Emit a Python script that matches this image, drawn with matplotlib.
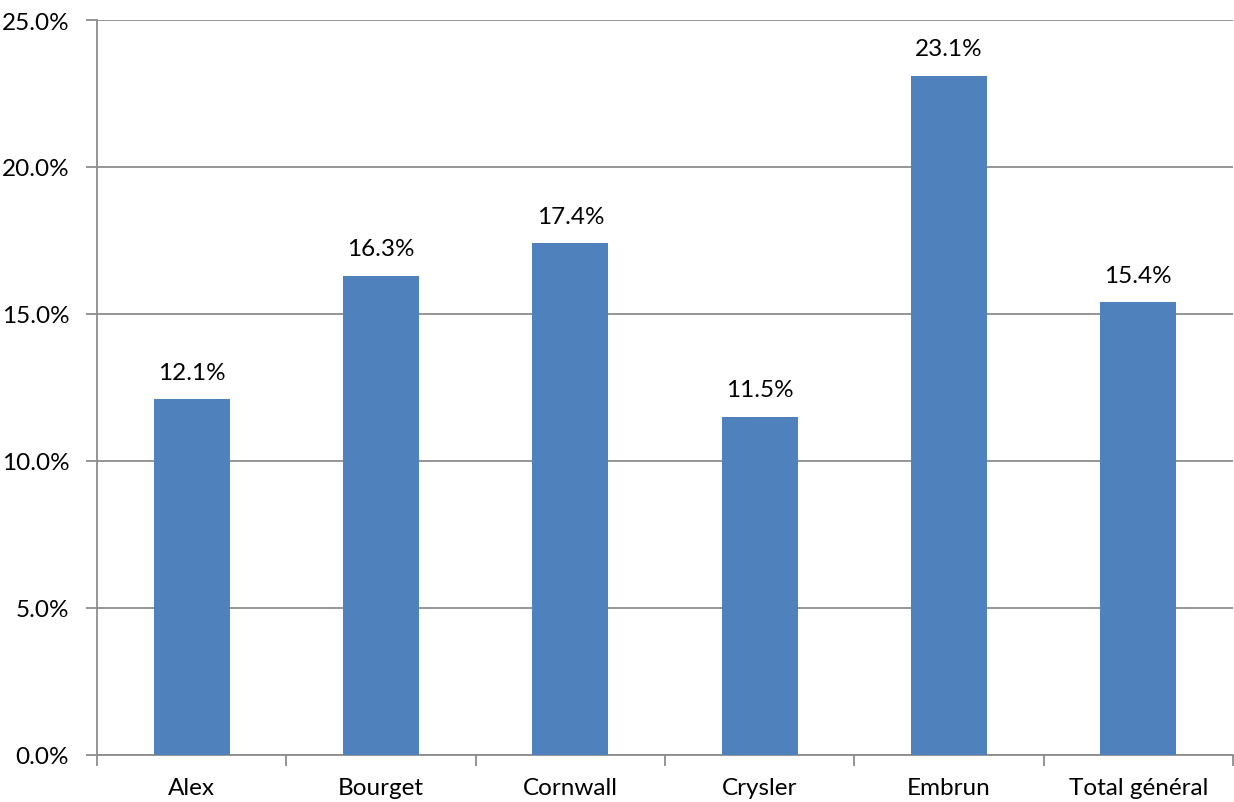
import matplotlib
matplotlib.use("Agg")
import matplotlib.pyplot as plt
from matplotlib.ticker import FixedLocator, FuncFormatter

categories = ["Alex", "Bourget", "Cornwall", "Crysler", "Embrun", "Total général"]
values = [12.1, 16.3, 17.4, 11.5, 23.1, 15.4]
yticks = [0, 5, 10, 15, 20, 25]

plt.rcParams['font.family'] = ['Lato', 'DejaVu Sans']

fig = plt.figure(figsize=(12.34, 8.03), dpi=100)
ax = fig.add_axes([97/1234, 1 - 756/803, (1233 - 97)/1234, (756 - 21)/803])

x = list(range(len(categories)))
ax.bar(x, values, width=0.4, color="#4F81BD", zorder=3)
for xi, v in zip(x, values):
    ax.annotate(f"{v:.1f}%", (xi, v), xytext=(0, 12), textcoords="offset points",
                ha="center", va="bottom", fontsize=17.5, color="black")

ax.set_xlim(-0.5, len(categories) - 0.5)
ax.set_ylim(0, 25)
ax.set_yticks(yticks)
ax.yaxis.set_major_formatter(FuncFormatter(lambda v, p: f"{v:.1f}%"))
ax.grid(axis="y", color="#8c8c8c", linewidth=1.3, zorder=0)

ax.set_xticks(x)
ax.set_xticklabels(categories, fontsize=17.5)
ax.xaxis.set_minor_locator(FixedLocator([i - 0.5 for i in range(len(categories) + 1)]))
ax.tick_params(axis="x", which="major", length=0, pad=16)
ax.tick_params(axis="x", which="minor", length=8, color="#8c8c8c", width=1.3)
ax.tick_params(axis="y", length=8, color="#8c8c8c", width=1.3, labelsize=17.5, pad=12)

for s in ["top", "right"]:
    ax.spines[s].set_visible(False)
for s in ["left", "bottom"]:
    ax.spines[s].set_color("#8c8c8c")
    ax.spines[s].set_linewidth(1.3)

fig.savefig("out.png", dpi=100)
